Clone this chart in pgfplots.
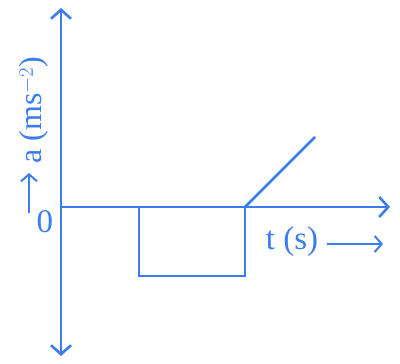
\documentclass[border=0pt]{standalone}
\usepackage{pgfplots}
\pgfplotsset{compat=1.18}
\usepackage{fontspec}
\setmainfont{Liberation Serif}
\usetikzlibrary{arrows.meta}
\definecolor{lineblue}{RGB}{59,125,240}

\begin{document}
\begin{tikzpicture}
\begin{axis}[
  name=ax,
  scale only axis,
  width=400pt, height=364pt,
  xmin=-61, xmax=339, ymin=-157, ymax=207,
  axis lines=none,
  clip=false,
]
% time and acceleration axes
\draw[lineblue, line width=2.6pt, {Straight Barb[length=9pt,width=20pt,line width=2.6pt]}-{Straight Barb[length=9pt,width=20pt,line width=2.6pt]}]
  (axis cs:0,-149) -- (axis cs:0,199);
\draw[lineblue, line width=2.6pt, -{Straight Barb[length=9pt,width=20pt,line width=2.6pt]}]
  (axis cs:0,0) -- (axis cs:329,0);

% acceleration: negative constant pulse, then linear rise
\addplot[lineblue, line width=2.6pt, line join=miter] coordinates {
  (78,0) (78,-69) (184,-69) (184,0)
};
\addplot[lineblue, line width=2.6pt] coordinates {
  (184,0) (254,70)
};

% labels
\node[text=lineblue, font=\fontsize{33}{38}\selectfont] at (axis cs:-16,-15) {0};
\node[text=lineblue, font=\fontsize{33}{38}\selectfont] at (axis cs:231,-35) {t (s)};
\draw[lineblue, line width=2pt, -{Straight Barb[length=7pt,width=16pt,line width=2pt]}]
  (axis cs:266,-37) -- (axis cs:322,-37);
\node[text=lineblue, rotate=90, font=\fontsize{32}{37}\selectfont] at (axis cs:-27,97) {a (ms$^{-2}$)};
\draw[lineblue, line width=2pt, -{Straight Barb[length=7pt,width=16pt,line width=2pt]}]
  (axis cs:-32,-6) -- (axis cs:-32,34);
\end{axis}
\pgfresetboundingbox
\path (ax.south west) rectangle (ax.north east);
\end{tikzpicture}
\end{document}
